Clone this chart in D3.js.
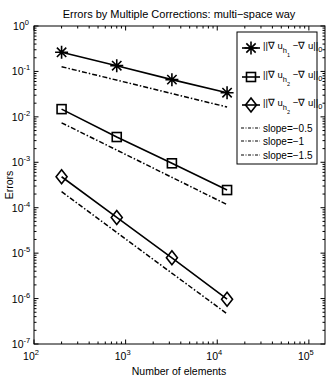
<!DOCTYPE html>
<html>
<head>
<meta charset="utf-8">
<script src="https://cdn.jsdelivr.net/npm/d3@7"></script>
<style>
body { margin: 0; background: #fff; }
text { font-family: "Liberation Sans", Arial, sans-serif; fill: #000; }
</style>
</head>
<body>
<svg id="chart" width="327" height="382"></svg>
<script>
// data
var elements = [200, 800, 3200, 12800];
var errH1 = [0.264, 0.134, 0.066, 0.034];
var errH2 = [0.0148, 0.0036, 0.00095, 0.000245];
var errH2b = [0.00048, 0.000061, 0.0000079, 0.00000097];
var slopeX = [200, 12800];
var slope05 = [0.127, 0.0165];
var slope1 = [0.0074, 0.000117];
var slope15 = [0.000225, 0.00000046];
var xTicks = [1e2, 1e3, 1e4, 1e5];
var yTicks = [1e0, 1e-1, 1e-2, 1e-3, 1e-4, 1e-5, 1e-6, 1e-7];

var svg = d3.select("#chart");
var plotL = 34, plotR = 325, plotT = 26, plotB = 344;

var x = d3.scaleLog().domain([100, 1.5e5]).range([plotL, plotR]);
var y = d3.scaleLog().domain([1e-7, 1]).range([plotB, plotT]);

// minor ticks
function minors(lo, hi) {
    var out = [];
    for (var e = lo; e < hi; e++) {
        for (var k = 2; k <= 9; k++) out.push(k * Math.pow(10, e));
    }
    return out;
}
var xMinor = minors(2, 6).filter(function(v){ return v < 1.5e5; });
var yMinor = minors(-7, 0);

var ax = svg.append("g").attr("stroke", "#000").attr("stroke-width", 1);
function tickLines(vals, len, horiz) {
    vals.forEach(function(v) {
        if (horiz) {
            var px = x(v);
            ax.append("line").attr("x1", px).attr("x2", px).attr("y1", plotB).attr("y2", plotB - len);
            ax.append("line").attr("x1", px).attr("x2", px).attr("y1", plotT).attr("y2", plotT + len);
        } else {
            var py = y(v);
            ax.append("line").attr("x1", plotL).attr("x2", plotL + len).attr("y1", py).attr("y2", py);
            ax.append("line").attr("x1", plotR).attr("x2", plotR - len).attr("y1", py).attr("y2", py);
        }
    });
}
tickLines(xMinor, 2.5, true);
tickLines(xTicks, 4.5, true);
tickLines(yMinor, 2.5, false);
tickLines(yTicks, 4.5, false);

svg.append("rect").attr("x", plotL).attr("y", plotT).attr("width", plotR - plotL).attr("height", plotB - plotT)
    .attr("fill", "none").attr("stroke", "#000").attr("stroke-width", 1);

// tick labels
function powLabel(g, px, py, exp, anchor) {
    var t = g.append("text").attr("x", px).attr("y", py).attr("font-size", 10.5).attr("text-anchor", anchor);
    t.append("tspan").text("10");
    t.append("tspan").attr("dy", -5).attr("font-size", 7.5).text(exp);
}
xTicks.forEach(function(v) {
    powLabel(svg, x(v) - 3, 360, Math.round(Math.log10(v)), "middle");
});
yTicks.forEach(function(v) {
    powLabel(svg, plotL - 13, y(v) + 4, Math.round(Math.log10(v)), "middle");
});

svg.append("text").attr("x", 179).attr("y", 375).attr("text-anchor", "middle").attr("font-size", 10.5)
    .text("Number of elements");
svg.append("text").attr("transform", "translate(13,185) rotate(-90)").attr("text-anchor", "middle")
    .attr("font-size", 10.5).text("Errors");
svg.append("text").attr("x", 179).attr("y", 18).attr("text-anchor", "middle").attr("font-size", 11)
    .text("Errors by Multiple Corrections: multi\u2212space way");

// lines
var line = d3.line().x(function(d){ return x(d[0]); }).y(function(d){ return y(d[1]); });
var dashdot = "5,2,1.5,2";

function series(vals) { return elements.map(function(n, i){ return [n, vals[i]]; }); }
function refLine(vals) { return slopeX.map(function(n, i){ return [n, vals[i]]; }); }

[slope05, slope1, slope15].forEach(function(s) {
    svg.append("path").attr("d", line(refLine(s))).attr("fill", "none").attr("stroke", "#000")
        .attr("stroke-width", 1.5).attr("stroke-dasharray", dashdot);
});
[errH1, errH2, errH2b].forEach(function(s) {
    svg.append("path").attr("d", line(series(s))).attr("fill", "none").attr("stroke", "#000")
        .attr("stroke-width", 1.6);
});

// markers
function star(g, cx, cy) {
    var r = 6.5, d = r * 0.72;
    g.append("path").attr("d",
        "M" + (cx - r) + "," + cy + "H" + (cx + r) +
        "M" + cx + "," + (cy - r) + "V" + (cy + r) +
        "M" + (cx - d) + "," + (cy - d) + "L" + (cx + d) + "," + (cy + d) +
        "M" + (cx - d) + "," + (cy + d) + "L" + (cx + d) + "," + (cy - d))
        .attr("stroke", "#000").attr("stroke-width", 1.6).attr("fill", "none");
}
function square(g, cx, cy) {
    g.append("rect").attr("x", cx - 4.5).attr("y", cy - 4.5).attr("width", 9).attr("height", 9)
        .attr("fill", "none").attr("stroke", "#000").attr("stroke-width", 1.6);
}
function diamond(g, cx, cy) {
    g.append("path").attr("d", "M" + cx + "," + (cy - 7) + "L" + (cx + 5.5) + "," + cy + "L" + cx + "," + (cy + 7) +
        "L" + (cx - 5.5) + "," + cy + "Z")
        .attr("fill", "none").attr("stroke", "#000").attr("stroke-width", 1.6);
}
var marks = svg.append("g");
series(errH1).forEach(function(d){ star(marks, x(d[0]), y(d[1])); });
series(errH2).forEach(function(d){ square(marks, x(d[0]), y(d[1])); });
series(errH2b).forEach(function(d){ diamond(marks, x(d[0]), y(d[1])); });

// legend
var lg = svg.append("g");
lg.append("rect").attr("x", 237).attr("y", 32).attr("width", 80).attr("height", 132)
    .attr("fill", "#fff").attr("stroke", "#000").attr("stroke-width", 1);

function normLabel(py, sub) {
    var t = lg.append("text").attr("x", 263).attr("y", py).attr("font-size", 9.5);
    t.append("tspan").text("||\u2207 u");
    t.append("tspan").attr("dy", 4).attr("font-size", 7.5).text("h");
    t.append("tspan").attr("dy", 4).attr("font-size", 5.5).text(sub);
    t.append("tspan").attr("dy", -8).text(" \u2212\u2207 u||");
    t.append("tspan").attr("dy", 3).attr("font-size", 7.5).text("0");
}
var rows = [48, 77, 105];
var mfn = [star, square, diamond];
var subs = ["1", "2", "2"];
rows.forEach(function(py, i) {
    lg.append("line").attr("x1", 242).attr("x2", 260).attr("y1", py).attr("y2", py)
        .attr("stroke", "#000").attr("stroke-width", 1.6);
    mfn[i](lg, 251, py);
    normLabel(py + 1, subs[i]);
});
var slopeRows = [128, 141, 155];
var slopeText = ["slope=\u22120.5", "slope=\u22121", "slope=\u22121.5"];
slopeRows.forEach(function(py, i) {
    lg.append("line").attr("x1", 241).attr("x2", 260).attr("y1", py).attr("y2", py)
        .attr("stroke", "#000").attr("stroke-width", 1.2).attr("stroke-dasharray", "3,1.5,1,1.5");
    lg.append("text").attr("x", 263).attr("y", py + 3.5).attr("font-size", 10).text(slopeText[i]);
});
</script>
</body>
</html>
